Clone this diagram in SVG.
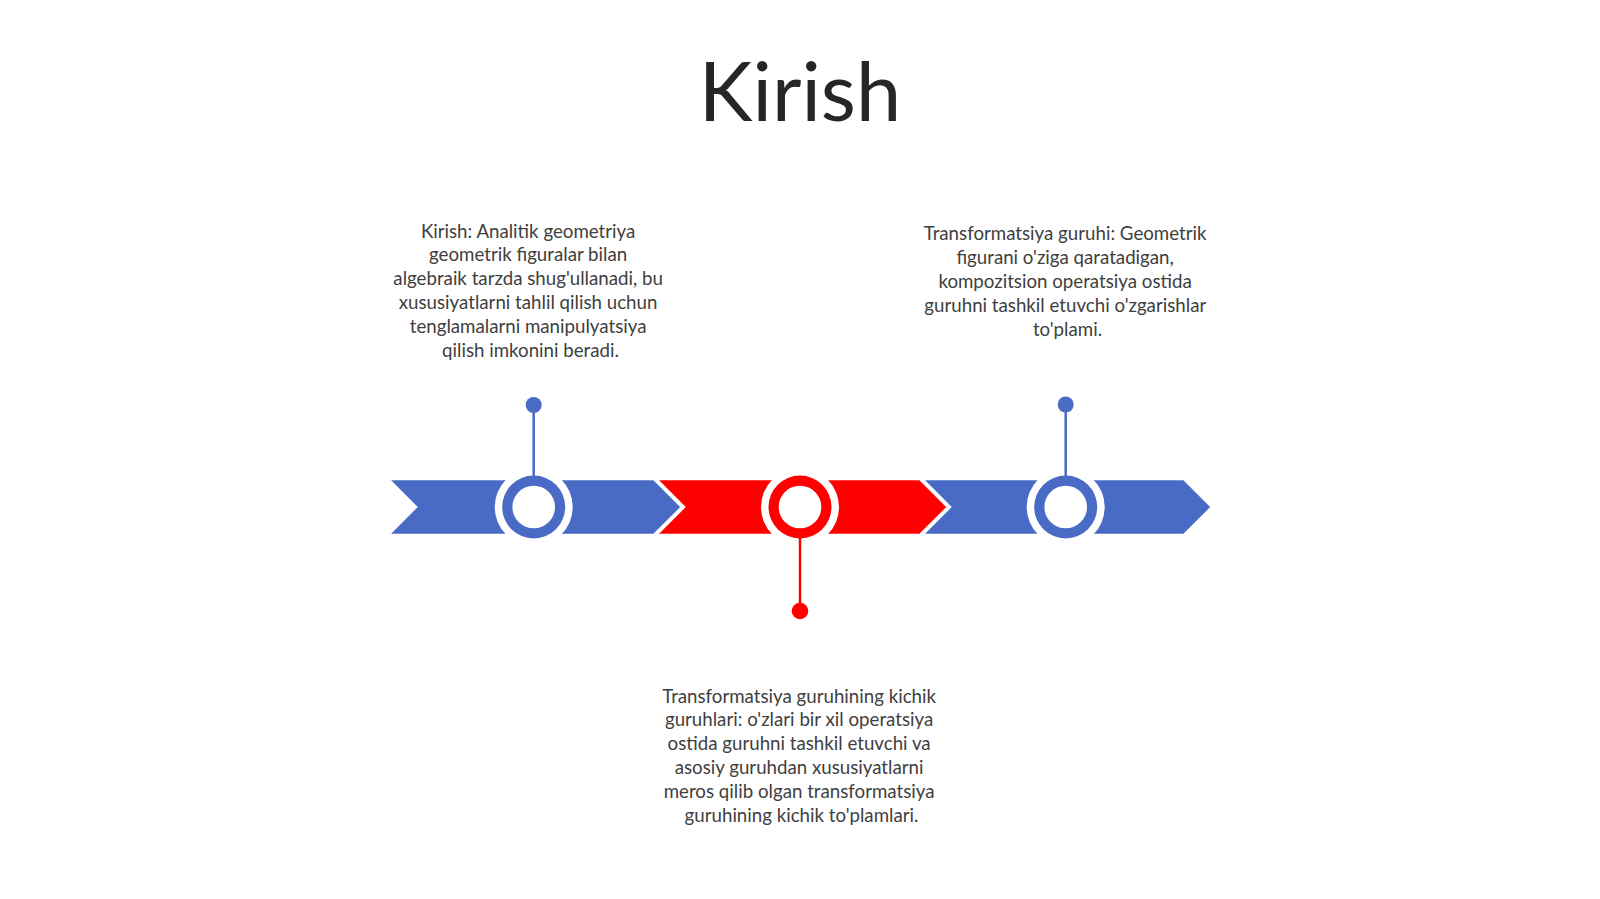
<svg xmlns="http://www.w3.org/2000/svg" width="1600" height="899" viewBox="0 0 1600 899">
<style>
.title{font-family:Lato,"Liberation Sans",sans-serif;font-size:81px;fill:#262626;text-anchor:middle}
.txt{font-family:Lato,"Liberation Sans",sans-serif;font-size:18.7px;fill:#404040;text-anchor:middle}
.chev{stroke:#fff;stroke-width:2.5;stroke-linejoin:miter}
.blue{fill:#4A6BC5}
.red{fill:#FF0000}
.gap{fill:#fff}
.hole{fill:#fff}
.pinb{stroke:#4A6BC5;stroke-width:2.5}
.pinr{stroke:#FF0000;stroke-width:2.5}
</style>
<rect width="1600" height="899" fill="#fff"/>
<text class="title" x="800" y="121">Kirish</text>

<g id="band">
<polygon class="chev blue" points="388,479 654,479 682,507 654,535 388,535 416,507"/>
<polygon class="chev red" points="656,479 920,479 948,507 920,535 656,535 684,507"/>
<polygon class="chev blue" points="922,479 1184,479 1212,507 1184,535 922,535 950,507"/>
</g>

<g id="node1">
<circle class="gap" cx="533.7" cy="507" r="39"/>
<circle class="blue" cx="533.7" cy="507" r="31.5"/>
<circle class="hole" cx="533.7" cy="507" r="21.3"/>
<circle class="blue" cx="533.7" cy="405" r="8"/>
<text class="txt">
<tspan x="530.5" y="237.5">Kirish: Analitik geometriya</tspan>
<tspan x="530.5" y="261.4">geometrik figuralar bilan</tspan>
<tspan x="530.5" y="285.3">algebraik tarzda shug'ullanadi, bu</tspan>
<tspan x="530.5" y="309.2">xususiyatlarni tahlil qilish uchun</tspan>
<tspan x="530.5" y="333.1">tenglamalarni manipulyatsiya</tspan>
<tspan x="530.5" y="357">qilish imkonini beradi.</tspan>
</text>
</g>

<g id="node2">
<circle class="gap" cx="800" cy="507" r="39"/>
<circle class="red" cx="800" cy="507" r="31.5"/>
<circle class="hole" cx="800" cy="507" r="21.3"/>
<circle class="red" cx="800" cy="611" r="8.3"/>
<text class="txt">
<tspan x="801.5" y="702.5">Transformatsiya guruhining kichik</tspan>
<tspan x="801.5" y="726.4">guruhlari: o'zlari bir xil operatsiya</tspan>
<tspan x="801.5" y="750.3">ostida guruhni tashkil etuvchi va</tspan>
<tspan x="801.5" y="774.2">asosiy guruhdan xususiyatlarni</tspan>
<tspan x="801.5" y="798.1">meros qilib olgan transformatsiya</tspan>
<tspan x="801.5" y="822">guruhining kichik to'plamlari.</tspan>
</text>
</g>

<g id="node3">
<circle class="gap" cx="1065.7" cy="507" r="39"/>
<circle class="blue" cx="1065.7" cy="507" r="31.5"/>
<circle class="hole" cx="1065.7" cy="507" r="21.3"/>
<circle class="blue" cx="1065.7" cy="404.5" r="8"/>
<text class="txt">
<tspan x="1067.5" y="240">Transformatsiya guruhi: Geometrik</tspan>
<tspan x="1067.5" y="263.9">figurani o'ziga qaratadigan,</tspan>
<tspan x="1067.5" y="287.8">kompozitsion operatsiya ostida</tspan>
<tspan x="1067.5" y="311.7">guruhni tashkil etuvchi o'zgarishlar</tspan>
<tspan x="1067.5" y="335.6">to'plami.</tspan>
</text>
</g>

<g id="connectors">
<line class="pinb" x1="533.7" y1="405" x2="533.7" y2="476"/>
<line class="pinr" x1="800" y1="538" x2="800" y2="611"/>
<line class="pinb" x1="1065.7" y1="404.5" x2="1065.7" y2="476"/>
</g>
</svg>
